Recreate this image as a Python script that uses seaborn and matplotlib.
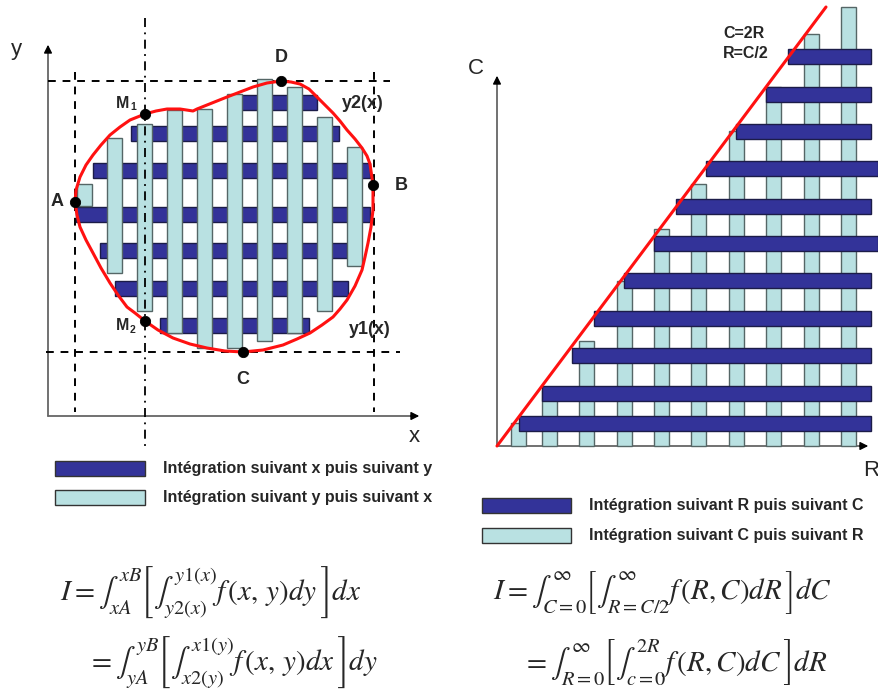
import numpy as np
import pandas as pd
import seaborn as sns
import matplotlib.pyplot as plt
from matplotlib.patches import Rectangle

# ---- data (pixel units, y downwards) ----
# left panel: horizontal strips (integration along x then y)
left_h_top = [95, 126, 163, 207, 243, 281, 318]
left_h_left = [232, 131, 93, 76, 100, 115, 160]
left_h_right = [317, 339, 370, 370, 347, 348, 309]
# left panel: vertical strips (integration along y then x)
left_v_left = [77, 107, 137, 167, 197, 227, 257, 287, 317, 347]
left_v_top = [184, 138, 124, 110, 109, 94, 79, 87, 117, 147]
left_v_bottom = [206, 273, 311, 333, 348, 348, 341, 333, 311, 266]

# domain boundary (red closed curve)
curve_x = [75, 76, 80, 86, 93, 101, 110, 120, 130, 145, 156, 167, 180, 193, 197,
           212, 227, 240, 253, 267, 281, 291, 300, 309, 317, 325, 333, 340, 347,
           355, 362, 367, 370, 373, 373, 373, 371, 368, 365, 362, 355, 347, 340,
           333, 322, 310, 297, 283, 263, 243, 225, 207, 190, 173, 158, 145, 135,
           127, 118, 110, 101, 93, 86, 80, 77, 75]
curve_y = [202, 190, 177, 165, 155, 145, 135, 127, 120, 114, 111, 109, 109, 111, 109,
           103, 97, 92, 87, 83, 81, 82, 84, 89, 97, 105, 113, 121, 130,
           139, 148, 156, 164, 185, 198, 210, 227, 243, 257, 270, 286, 300, 309,
           317, 325, 333, 339, 345, 350, 352, 351, 348, 344, 338, 330, 321, 313,
           307, 295, 283, 268, 253, 240, 227, 215, 202]
point_names = ["A", "B", "C", "D", "M1", "M2"]
point_x = [75, 373, 243, 281, 145, 145]
point_y = [202, 185, 352, 81, 114, 321]

# right panel
right_v_left = [511, 542, 579, 617, 654, 691, 729, 766, 804, 841]
right_v_top = [423, 390, 341, 281, 229, 184, 131, 87, 34, 7]
right_v_bottom = 446
right_h_top = [416, 386, 348, 311, 273, 236, 199, 161, 124, 87, 49]
right_h_left = [519, 542, 572, 594, 624, 654, 676, 706, 736, 766, 788]
right_h_right = [871, 871, 871, 871, 871, 878, 871, 878, 871, 871, 871]
line_x = [497, 826]
line_y = [446, 7]

DARK = "#333399"
LIGHT = "#B9E1E2"
RED = "#FF1111"
STRIP = 15

sns.set_theme(style="white")
plt.rcParams["font.family"] = ["Liberation Sans", "DejaVu Sans"]
plt.rcParams["mathtext.fontset"] = "stix"

fig = plt.figure(figsize=(8.79, 6.97), dpi=100)
ax = fig.add_axes([0, 0, 1, 1])
ax.set_xlim(0, 879)
ax.set_ylim(697, 0)
ax.axis("off")

# ---------- left panel ----------
lh = pd.DataFrame({"top": left_h_top, "left": left_h_left, "right": left_h_right})
ax.barh(lh["top"] + STRIP / 2, lh["right"] - lh["left"], left=lh["left"], height=STRIP,
        color=DARK, edgecolor="#1c1c48", lw=1, zorder=2)
lv = pd.DataFrame({"left": left_v_left, "top": left_v_top, "bottom": left_v_bottom})
ax.bar(lv["left"] + STRIP / 2, lv["bottom"] - lv["top"], bottom=lv["top"], width=STRIP,
       color=LIGHT, edgecolor="#556666", lw=1, zorder=3)

# axes with arrows
ax.plot([48, 48], [416, 48], color="#666666", lw=1.3, zorder=1)
ax.plot([48, 414], [416, 416], color="#666666", lw=1.3, zorder=1)
ax.annotate("", xy=(48, 42), xytext=(48, 55),
            arrowprops=dict(arrowstyle="-|>", color="black", lw=1, mutation_scale=12))
ax.annotate("", xy=(422, 416), xytext=(408, 416),
            arrowprops=dict(arrowstyle="-|>", color="black", lw=1, mutation_scale=12))
ax.text(16, 50, "y", fontsize=16, ha="center", va="center")
ax.text(414, 437, "x", fontsize=16, ha="center", va="center")

# dashed guides
dash = dict(color="black", lw=1.4, ls=(0, (4, 3.5)), zorder=1)
ax.plot([48, 390], [81, 81], **dash)
ax.plot([46, 400], [352, 352], **dash)
ax.plot([75, 75], [72, 412], **dash)
ax.plot([374, 374], [72, 412], **dash)
ax.plot([145, 145], [18, 446], color="black", lw=1.3, ls=(0, (5, 3, 1, 3)), zorder=4)

sns.lineplot(x=curve_x, y=curve_y, sort=False, estimator=None, errorbar=None,
             color=RED, lw=2.2, ax=ax, zorder=5)
sns.scatterplot(x=point_x, y=point_y, color="black", s=55, ax=ax, zorder=6,
                edgecolor="black", legend=False)

lbl = dict(fontsize=13, fontweight="bold", ha="center", va="center")
ax.text(57, 202, "A", **lbl)
ax.text(401, 186, "B", **lbl)
ax.text(243, 380, "C", **lbl)
ax.text(281, 58, "D", **lbl)
ax.text(123, 103, "M", fontsize=11.5, fontweight="bold", ha="center", va="center")
ax.text(133, 107, "1", fontsize=7.5, fontweight="bold", ha="center", va="center")
ax.text(123, 326, "M", fontsize=11.5, fontweight="bold", ha="center", va="center")
ax.text(133, 330, "2", fontsize=7.5, fontweight="bold", ha="center", va="center")
ax.text(363, 103, "y2(x)", **lbl)
ax.text(370, 330, "y1(x)", **lbl)

# ---------- right panel ----------
rv = pd.DataFrame({"left": right_v_left, "top": right_v_top})
ax.bar(rv["left"] + STRIP / 2, right_v_bottom - rv["top"], bottom=rv["top"], width=STRIP,
       color=LIGHT, edgecolor="#556666", lw=1, zorder=2)
rh = pd.DataFrame({"top": right_h_top, "left": right_h_left, "right": right_h_right})
ax.barh(rh["top"] + STRIP / 2, rh["right"] - rh["left"], left=rh["left"], height=STRIP,
        color=DARK, edgecolor="#1c1c48", lw=1, zorder=3)

ax.plot([497, 497], [446, 80], color="#666666", lw=1.3, zorder=1)
ax.plot([497, 864], [446, 446], color="#666666", lw=1.3, zorder=1)
ax.annotate("", xy=(497, 73), xytext=(497, 86),
            arrowprops=dict(arrowstyle="-|>", color="black", lw=1, mutation_scale=12))
ax.annotate("", xy=(871, 446), xytext=(857, 446),
            arrowprops=dict(arrowstyle="-|>", color="black", lw=1, mutation_scale=12))
ax.text(476, 68, "C", fontsize=16, ha="center", va="center")
ax.text(871, 470, "R", fontsize=16, ha="center", va="center")

sns.lineplot(x=line_x, y=line_y, sort=False, estimator=None, errorbar=None,
             color=RED, lw=2.2, ax=ax, zorder=5)
ax.text(723, 34, "C=2R", fontsize=11.5, fontweight="bold", ha="left", va="center")
ax.text(723, 53, "R=C/2", fontsize=11.5, fontweight="bold", ha="left", va="center")

# ---------- legends ----------
legends = [
    (55, 461, 90, "Intégration suivant x puis suivant y", DARK),
    (55, 490, 90, "Intégration suivant y puis suivant x", LIGHT),
    (482, 498, 89, "Intégration suivant R puis suivant C", DARK),
    (482, 528, 89, "Intégration suivant C puis suivant R", LIGHT),
]
for x0, y0, w, txt, col in legends:
    ax.add_patch(Rectangle((x0, y0), w, STRIP, facecolor=col,
                           edgecolor="#333333", lw=1))
    ax.text(x0 + w + 18, y0 + STRIP / 2, txt, fontsize=11.5,
            fontweight="bold", ha="left", va="center")

# ---------- formulas ----------
fs = 21
ax.text(60, 593, r"$I=\int_{xA}^{xB}\left[\int_{y2(x)}^{y1(x)}f\,(x,\,y)dy\,\right]dx$",
        fontsize=fs, ha="left", va="center")
ax.text(87, 663, r"$=\int_{yA}^{yB}\left[\int_{x2(y)}^{x1(y)}f\,(x,\,y)dx\,\right]dy$",
        fontsize=fs, ha="left", va="center")
ax.text(493, 593, r"$I=\int_{C=0}^{\infty}\left[\int_{R=C/2}^{\infty}f\,(R,C)dR\,\right]dC$",
        fontsize=fs, ha="left", va="center")
ax.text(522, 663, r"$=\int_{R=0}^{\infty}\left[\int_{c=0}^{2R}f\,(R,C)dC\,\right]dR$",
        fontsize=fs, ha="left", va="center")

fig.savefig("out.png", dpi=100)
